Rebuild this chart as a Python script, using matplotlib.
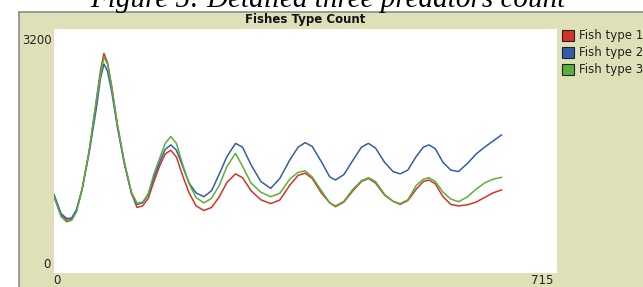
import matplotlib
matplotlib.use('Agg')
import matplotlib.pyplot as plt
from matplotlib.patches import Rectangle
from matplotlib.lines import Line2D

# ---- data ----
ticks = [0, 10, 18, 25, 32, 40, 50, 60, 66, 71, 76, 82, 90, 100, 110, 118, 126, 134,
         142, 150, 158, 166, 174, 182, 192, 202, 213, 224, 235, 246, 258, 268, 280,
         294, 308, 321, 335, 347, 357, 367, 380, 392, 400, 412, 425, 437, 447, 457,
         470, 482, 492, 503, 515, 525, 533, 542, 553, 564, 575, 588, 600, 612, 624, 636]

fish1 = [1000, 760, 690, 700, 820, 1100, 1600, 2250, 2650, 2880, 2760, 2450, 1950, 1450,
         1050, 860, 880, 980, 1200, 1400, 1560, 1610, 1520, 1300, 1050, 880, 820, 860,
         1000, 1190, 1300, 1250, 1080, 960, 910, 957, 1150, 1280, 1310, 1240, 1050, 920,
         870, 930, 1080, 1200, 1240, 1180, 1020, 940, 900, 950, 1100, 1200, 1220, 1170,
         1000, 900, 880, 895, 930, 990, 1050, 1090]

fish2 = [1030, 780, 715, 720, 830, 1100, 1580, 2150, 2550, 2740, 2650, 2380, 1920, 1430,
         1050, 900, 920, 1030, 1250, 1450, 1620, 1680, 1610, 1420, 1180, 1050, 1000, 1080,
         1300, 1530, 1700, 1650, 1420, 1200, 1110, 1240, 1480, 1650, 1710, 1660, 1460, 1260,
         1220, 1290, 1480, 1650, 1700, 1640, 1450, 1330, 1300, 1350, 1530, 1650, 1680, 1630,
         1450, 1350, 1330, 1440, 1560, 1650, 1730, 1810]

fish3 = [1000, 740, 670, 690, 800, 1100, 1600, 2250, 2600, 2830, 2740, 2440, 1950, 1450,
         1060, 915, 930, 1040, 1300, 1500, 1700, 1790, 1700, 1450, 1170, 990, 920, 980,
         1150, 1400, 1570, 1400, 1180, 1060, 1000, 1045, 1230, 1320, 1340, 1260, 1080, 920,
         880, 940, 1100, 1210, 1250, 1200, 1030, 940, 910, 960, 1150, 1230, 1250, 1200,
         1060, 970, 935, 1000, 1100, 1180, 1230, 1255]

series_names = ['Fish type 1', 'Fish type 2', 'Fish type 3']
series_colors = ['#d73229', '#345da9', '#59b03c']
x_max = 715
y_max = 3200

# ---- figure in pixel units ----
W, H = 643, 287
fig = plt.figure(figsize=(W / 100, H / 100), dpi=100)
fig.patch.set_facecolor('white')


def fx(px):
    return px / W


def fy(py):
    return 1 - py / H


TAN = '#e0e0b8'

# widget background + frame
fig.patches.append(Rectangle((fx(19), 0), fx(W - 19), fy(12), transform=fig.transFigure,
                             facecolor=TAN, edgecolor='none', zorder=-5))
fig.lines.append(Line2D([fx(18.5), fx(18.5)], [0, fy(11.5)], transform=fig.transFigure,
                        color='#8c8c8c', lw=1.2, zorder=-4))
fig.lines.append(Line2D([fx(18.5), 1], [fy(11.5), fy(11.5)], transform=fig.transFigure,
                        color='#8c8c8c', lw=1.2, zorder=-4))

# caption (cut off at the top in the reference)
fig.text(fx(328), fy(7), 'Figure 5: Detailed three predators count', ha='center',
         va='baseline', fontsize=21, family='Liberation Serif', style='italic')

# title
fig.text(fx(305), fy(20), 'Fishes Type Count', ha='center', va='center',
         fontsize=8.5, fontweight='bold', color='#111111')

# ---- plot area ----
ax = fig.add_axes([fx(54), fy(273), fx(557) - fx(54), fy(29) - fy(273)])
ax.set_zorder(2)
ax.set_facecolor('white')
for name, vals, col in zip(series_names, [fish1, fish2, fish3], series_colors):
    ax.plot(ticks, vals, color=col, lw=1.1, label=name)
ax.set_xlim(0, x_max)
ax.set_ylim(0, y_max)
ax.set_xticks([])
ax.set_yticks([])
for s in ax.spines.values():
    s.set_visible(False)

# axis labels like the NetLogo widget
lab = dict(fontsize=8.5, color='#222222')
fig.text(fx(52), fy(40), str(y_max), ha='right', va='center', **lab)
fig.text(fx(51), fy(265), '0', ha='right', va='center', **lab)
fig.text(fx(53), fy(281), '0', ha='left', va='center', **lab)
fig.text(fx(553), fy(281), str(x_max), ha='right', va='center', **lab)

# legend
for i, (name, col) in enumerate(zip(series_names, series_colors)):
    top = 30.5 + i * 16.8
    fig.patches.append(Rectangle((fx(562), fy(top + 10.5)), fx(12), fy(0) - fy(10.5),
                                 transform=fig.transFigure, facecolor=col,
                                 edgecolor='#222222', lw=0.8))
    fig.text(fx(579), fy(top + 5.5), name, ha='left', va='center', **lab)

fig.savefig('out.png', dpi=100, facecolor='white')
